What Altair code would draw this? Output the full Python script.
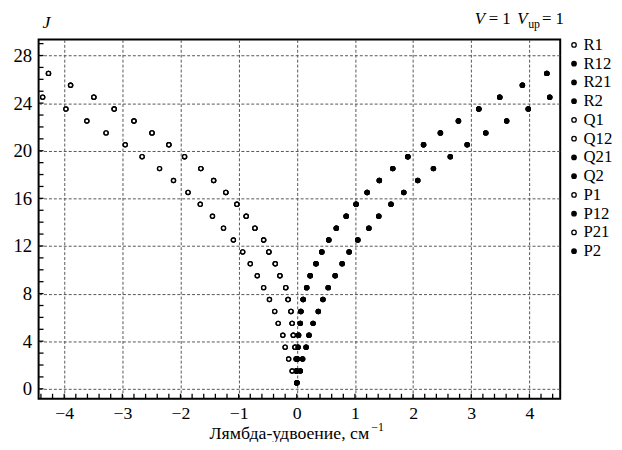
import altair as alt
import pandas as pd

# ---------------- data ----------------
J_LONG = [0.5, 1.5, 2.5, 3.5, 4.5, 5.5, 6.5, 7.5, 8.5, 9.5, 10.5, 11.5, 12.5,
          13.5, 14.5, 15.5, 16.5, 17.5, 18.5, 19.5, 20.5, 21.5, 22.5, 23.5,
          24.5, 25.5, 26.5]
J_SHORT = J_LONG[:25]

# left, outer sequence (open markers)
SEQ_A = [0.00, -0.08, -0.14, -0.20, -0.24, -0.32, -0.38, -0.47, -0.57, -0.68,
         -0.80, -0.93, -1.09, -1.26, -1.45, -1.66, -1.87, -2.12, -2.36, -2.66,
         -2.95, -3.28, -3.61, -3.97, -4.37]
# left, inner sequence (open markers)
SEQ_B = [0.00, -0.01, -0.01, -0.03, -0.06, -0.08, -0.10, -0.15, -0.19, -0.29,
         -0.37, -0.48, -0.57, -0.72, -0.87, -1.03, -1.22, -1.43, -1.65, -1.93,
         -2.20, -2.49, -2.80, -3.14, -3.49, -3.89, -4.27]
# right, inner sequence (filled markers)
SEQ_C = [0.00, 0.00, 0.01, 0.02, 0.03, 0.06, 0.07, 0.11, 0.17, 0.23,
         0.33, 0.43, 0.55, 0.68, 0.85, 1.02, 1.21, 1.42, 1.65, 1.91,
         2.18, 2.47, 2.78, 3.13, 3.49, 3.88, 4.30]
# right, outer sequence (filled markers)
SEQ_D = [0.00, 0.06, 0.10, 0.16, 0.21, 0.28, 0.37, 0.45, 0.54, 0.66,
         0.78, 0.90, 1.05, 1.24, 1.41, 1.62, 1.84, 2.08, 2.35, 2.64,
         2.93, 3.25, 3.61, 3.98, 4.35]

SERIES = ["R1", "R12", "R21", "R2", "Q1", "Q12", "Q21", "Q2",
          "P1", "P12", "P21", "P2"]
SERIES_SEQ = ["B", "C", "C", "C", "B", "B", "D", "C", "A", "D", "A", "D"]
SERIES_FILL = ["white", "black", "black", "black", "white", "white", "black",
               "black", "white", "black", "white", "black"]

X_LABELS = [-4, -3, -2, -1, 0, 1, 2, 3, 4]
Y_GRID = [0, 2, 4, 6, 8, 10, 12, 14, 16, 18, 20, 22, 24, 26, 28]
X_MINOR = [round(-4.4 + 0.2 * k, 1) for k in range(45)]
Y_MINOR = list(range(0, 30))

seqs = {"A": (J_SHORT, SEQ_A), "B": (J_LONG, SEQ_B),
        "C": (J_LONG, SEQ_C), "D": (J_SHORT, SEQ_D)}
rows = []
for s, q in zip(SERIES, SERIES_SEQ):
    js, xs = seqs[q]
    for j, x in zip(js, xs):
        rows.append({"series": s, "x": x, "J": j})
df = pd.DataFrame(rows)

W, H = 528.5, 364
FONT = "Liberation Serif"
XDOM = [-4.44, 4.53]
YDOM = [-0.83, 29.35]

xscale = alt.Scale(domain=XDOM, nice=False, zero=False)
yscale = alt.Scale(domain=YDOM, nice=False, zero=False)

points = alt.Chart(df).mark_point(size=17, strokeWidth=1.4, opacity=1).encode(
    x=alt.X("x:Q", scale=xscale,
            axis=alt.Axis(values=X_LABELS, grid=True, ticks=False, domain=False,
                          format="d", labelFont=FONT, labelFontSize=18,
                          labelColor="black", labelPadding=6,
                          gridDash=[3, 2], gridColor="#555", gridWidth=1,
                          title=None)),
    y=alt.Y("J:Q", scale=yscale,
            axis=alt.Axis(values=Y_GRID, grid=True, ticks=False, domain=False,
                          labelExpr="datum.value % 4 == 0 ? datum.label : ''",
                          labelFont=FONT, labelFontSize=19, labelColor="black",
                          labelPadding=7,
                          gridDash=[3, 2], gridColor="#555", gridWidth=1,
                          title=None)),
    shape=alt.Shape("series:N", scale=alt.Scale(domain=SERIES, range=["circle"] * 12),
                    legend=alt.Legend(title=None)),
    fill=alt.Fill("series:N", scale=alt.Scale(domain=SERIES, range=SERIES_FILL),
                  legend=alt.Legend(title=None)),
    stroke=alt.Stroke("series:N", scale=alt.Scale(domain=SERIES, range=["black"] * 12),
                      legend=alt.Legend(title=None)),
)

xt = alt.Chart(pd.DataFrame({"t": X_MINOR})).mark_rule(color="black", strokeWidth=1.3).encode(
    x=alt.X("t:Q", scale=xscale), y=alt.value(H - 5), y2=alt.value(H))
yt = alt.Chart(pd.DataFrame({"t": Y_MINOR})).mark_rule(color="black", strokeWidth=1.3).encode(
    y=alt.Y("t:Q", scale=yscale), x=alt.value(0), x2=alt.value(5))


def txt(s, x, y, size=16, style="normal", align="left"):
    return alt.Chart(pd.DataFrame({"t": [s]})).mark_text(
        font=FONT, fontSize=size, fontStyle=style, align=align,
        baseline="alphabetic", color="black").encode(
        x=alt.value(x), y=alt.value(y), text="t:N")


texts = [
    txt("J", 4, -12, size=18, style="italic"),
    txt("V", 442, -16, size=17, style="italic"),
    txt("= 1", 456, -16, size=17),
    txt("V", 485, -16, size=17, style="italic"),
    txt("up", 496, -12, size=12),
    txt("= 1", 510, -16, size=17),
    txt("Лямбда-удвоение, см", 335, 405, size=18, align="right"),
    txt("−1", 337, 397, size=12),
]

chart = alt.layer(points, xt, yt, *texts).properties(
    width=W, height=H,
    autosize=alt.AutoSizeParams(type="none"),
    padding={"left": 31, "top": 29, "right": 54.5, "bottom": 41},
).configure_view(stroke="black", strokeWidth=2).configure_legend(
    orient="none", legendX=534, legendY=-3, padding=0, symbolSize=20,
    symbolStrokeWidth=1.3, labelFont=FONT,
    labelFontSize=17, labelColor="black", labelOffset=1, rowPadding=1,
)

chart.save("out.html", embed_options={"renderer": "svg", "actions": False})
